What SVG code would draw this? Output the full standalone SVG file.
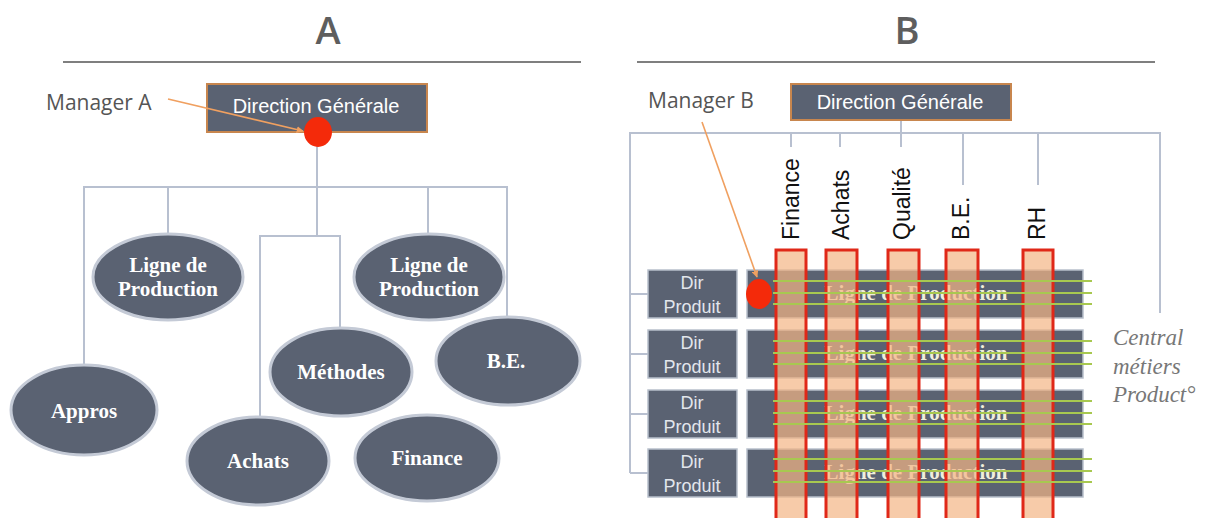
<svg xmlns="http://www.w3.org/2000/svg" width="1211" height="518" viewBox="0 0 1211 518">
<defs>
<style>
.title{font-family:"Open Sans","Liberation Sans",sans-serif;font-size:38px;font-weight:600;fill:#5e5e5e;text-anchor:middle}
.mgr{font-family:"Open Sans","Liberation Sans",sans-serif;font-size:21px;fill:#555}
.dgbox{fill:#5a6272;stroke:#c8864e;stroke-width:2}
.dgtxt{font-family:"Liberation Sans",Arial,sans-serif;font-size:20px;fill:#fff;text-anchor:middle}
.conn{fill:none;stroke:#b8c0d0;stroke-width:2}
.ell{fill:#5a6272;stroke:#c4cad6;stroke-width:3}
.etxt{font-family:"Liberation Serif","Times New Roman",serif;font-weight:bold;font-size:21px;fill:#fff;text-anchor:middle}
.dir{fill:#5a6272;stroke:#b8c0cc;stroke-width:1.5}
.dirtxt{font-family:"Liberation Sans",Arial,sans-serif;font-size:18px;fill:#e2e6ec;text-anchor:middle}
.row{fill:#5a6272;stroke:#b8c0cc;stroke-width:1.5}
.rowtxt{font-family:"Liberation Serif","Times New Roman",serif;font-weight:bold;font-size:21px;fill:#f0eedc;text-anchor:middle}
.col{fill:#f4b584;fill-opacity:0.7;stroke:#e02818;stroke-width:3}
.green{stroke:#a8c850;stroke-width:2}
.vlab{font-family:"Liberation Sans",Arial,sans-serif;font-size:23px;fill:#111}
.dot{fill:#f42a0a}
.arrow{stroke:#f0a060;stroke-width:1.6;fill:none}
.side{font-family:"Liberation Serif","Times New Roman",serif;font-style:italic;font-size:23px;fill:#777}
</style>
<marker id="ah" viewBox="0 0 10 10" refX="9" refY="5" markerWidth="7" markerHeight="7" orient="auto" markerUnits="userSpaceOnUse">
<path d="M0,0 L10,5 L0,10 z" fill="#f0a060"/>
</marker>
</defs>
<rect width="1211" height="518" fill="#fff"/>

<!-- Panel A -->
<text class="title" x="328" y="44">A</text>
<line x1="63" y1="62" x2="581" y2="62" stroke="#555" stroke-width="1.5"/>

<g id="connectors-A">
<line class="conn" x1="317" y1="146" x2="317" y2="236"/>
<polyline class="conn" points="84,366 84,187 507,187 507,318"/>
<line class="conn" x1="168" y1="187" x2="168" y2="235"/>
<line class="conn" x1="428" y1="187" x2="428" y2="235"/>
<polyline class="conn" points="260,418 260,236 340,236 340,329"/>
</g>

<g id="dg-A">
<rect class="dgbox" x="207" y="84" width="220" height="48"/>
<text class="dgtxt" x="316" y="113">Direction Générale</text>
</g>

<g id="ligne1"><ellipse class="ell" cx="168" cy="277" rx="75" ry="43"/><text class="etxt" x="168" y="272">Ligne de</text><text class="etxt" x="168" y="296">Production</text></g>
<g id="ligne2"><ellipse class="ell" cx="429" cy="277" rx="75" ry="43"/><text class="etxt" x="429" y="272">Ligne de</text><text class="etxt" x="429" y="296">Production</text></g>
<g id="methodes"><ellipse class="ell" cx="341" cy="372" rx="71" ry="44"/><text class="etxt" x="341" y="379">Méthodes</text></g>
<g id="be-A"><ellipse class="ell" cx="508" cy="361" rx="72" ry="44"/><text class="etxt" x="506" y="368">B.E.</text></g>
<g id="appros"><ellipse class="ell" cx="84" cy="410" rx="73" ry="45"/><text class="etxt" x="84" y="418">Appros</text></g>
<g id="achats-A"><ellipse class="ell" cx="258" cy="461" rx="71" ry="44"/><text class="etxt" x="258" y="468">Achats</text></g>
<g id="finance-A"><ellipse class="ell" cx="427" cy="458" rx="72" ry="43"/><text class="etxt" x="427" y="465">Finance</text></g>

<g id="managerA">
<text class="mgr" x="46" y="110">Manager A</text>
<ellipse class="dot" cx="318" cy="132" rx="14" ry="15"/>
<line class="arrow" x1="168" y1="99" x2="303" y2="131" marker-end="url(#ah)"/>
</g>

<!-- Panel B -->
<text class="title" x="907" y="44">B</text>
<line x1="637" y1="62" x2="1155" y2="62" stroke="#555" stroke-width="1.5"/>

<g id="connectors-B">
<line class="conn" x1="901" y1="120" x2="901" y2="147"/>
<polyline class="conn" points="630,473 630,133 1160,133 1160,313"/>
<line class="conn" x1="791" y1="133" x2="791" y2="147"/>
<line class="conn" x1="840" y1="133" x2="840" y2="147"/>
<line class="conn" x1="963" y1="133" x2="963" y2="185"/>
<line class="conn" x1="1038" y1="133" x2="1038" y2="185"/>
<line class="conn" x1="630" y1="294" x2="648" y2="294"/>
<line class="conn" x1="630" y1="354" x2="648" y2="354"/>
<line class="conn" x1="630" y1="414" x2="648" y2="414"/>
<line class="conn" x1="630" y1="473" x2="648" y2="473"/>
</g>

<g id="dg-B">
<rect class="dgbox" x="791" y="84" width="220" height="36"/>
<text class="dgtxt" x="900" y="109">Direction Générale</text>
</g>

<g id="dir1"><rect class="dir" x="648" y="270" width="89" height="48"/><text class="dirtxt" x="692" y="289">Dir</text><text class="dirtxt" x="692" y="313">Produit</text></g>
<g id="dir2"><rect class="dir" x="648" y="330" width="89" height="48"/><text class="dirtxt" x="692" y="349">Dir</text><text class="dirtxt" x="692" y="373">Produit</text></g>
<g id="dir3"><rect class="dir" x="648" y="390" width="89" height="48"/><text class="dirtxt" x="692" y="409">Dir</text><text class="dirtxt" x="692" y="433">Produit</text></g>
<g id="dir4"><rect class="dir" x="648" y="449" width="89" height="48"/><text class="dirtxt" x="692" y="468">Dir</text><text class="dirtxt" x="692" y="492">Produit</text></g>

<g id="row1"><rect class="row" x="747" y="270" width="336" height="48"/><text class="rowtxt" x="916" y="300">Ligne de Production</text></g>
<g id="row2"><rect class="row" x="747" y="330" width="336" height="48"/><text class="rowtxt" x="916" y="360">Ligne de Production</text></g>
<g id="row3"><rect class="row" x="747" y="390" width="336" height="48"/><text class="rowtxt" x="916" y="420">Ligne de Production</text></g>
<g id="row4"><rect class="row" x="747" y="449" width="336" height="48"/><text class="rowtxt" x="916" y="479">Ligne de Production</text></g>

<g id="col-finance"><rect class="col" x="776" y="250" width="30" height="275"/><text class="vlab" transform="translate(799,240) rotate(-90)">Finance</text></g>
<g id="col-achats"><rect class="col" x="826" y="250" width="31" height="275"/><text class="vlab" transform="translate(849,240) rotate(-90)">Achats</text></g>
<g id="col-qualite"><rect class="col" x="888" y="250" width="31" height="275"/><text class="vlab" transform="translate(910,240) rotate(-90)">Qualité</text></g>
<g id="col-be"><rect class="col" x="946" y="250" width="32" height="275"/><text class="vlab" transform="translate(969,240) rotate(-90)">B.E.</text></g>
<g id="col-rh"><rect class="col" x="1023" y="250" width="30" height="275"/><text class="vlab" transform="translate(1045,240) rotate(-90)">RH</text></g>

<g id="green-lines">
<line class="green" x1="773" y1="281" x2="1092" y2="281"/>
<line class="green" x1="773" y1="293" x2="1092" y2="293"/>
<line class="green" x1="773" y1="304" x2="1092" y2="304"/>
<line class="green" x1="773" y1="341" x2="1092" y2="341"/>
<line class="green" x1="773" y1="353" x2="1092" y2="353"/>
<line class="green" x1="773" y1="364" x2="1092" y2="364"/>
<line class="green" x1="773" y1="401" x2="1092" y2="401"/>
<line class="green" x1="773" y1="413" x2="1092" y2="413"/>
<line class="green" x1="773" y1="424" x2="1092" y2="424"/>
<line class="green" x1="773" y1="459" x2="1092" y2="459"/>
<line class="green" x1="773" y1="471" x2="1092" y2="471"/>
<line class="green" x1="773" y1="482" x2="1092" y2="482"/>
</g>

<g id="managerB">
<text class="mgr" x="648" y="108">Manager B</text>
<ellipse class="dot" cx="759" cy="294" rx="13" ry="15"/>
<line class="arrow" x1="702" y1="122" x2="757" y2="277" marker-end="url(#ah)"/>
</g>

<g id="central">
<text class="side" x="1113" y="345">Central</text>
<text class="side" x="1113" y="374">métiers</text>
<text class="side" x="1113" y="402">Product°</text>
</g>
</svg>
